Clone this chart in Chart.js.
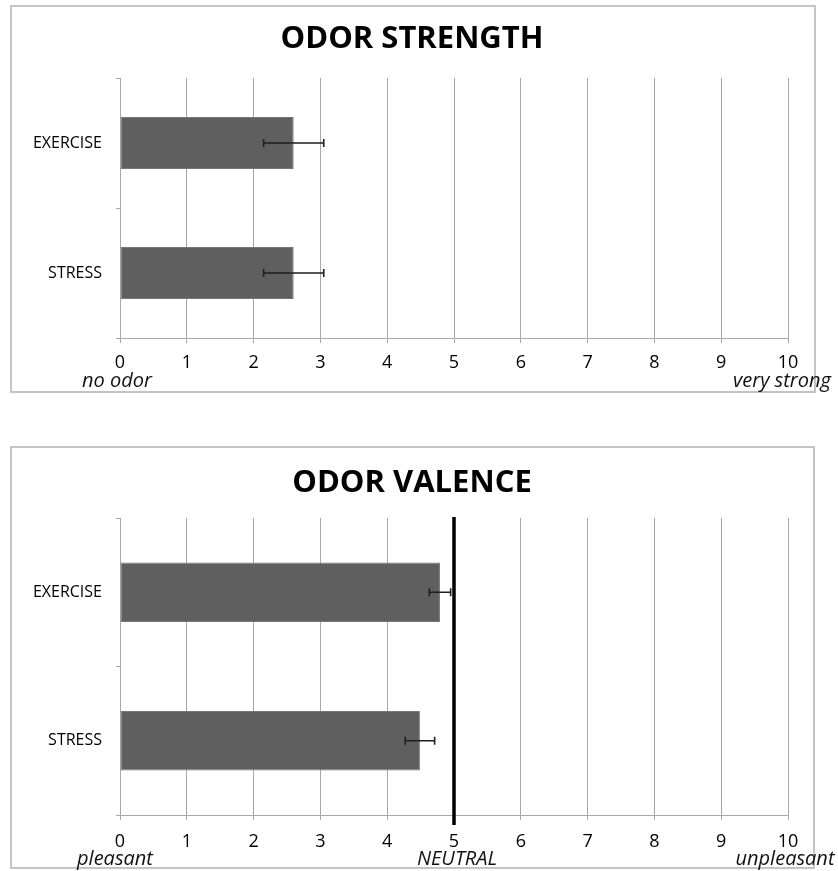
<!DOCTYPE html>
<html>
<head>
<meta charset="utf-8">
<script src="https://cdn.jsdelivr.net/npm/chart.js@4.4.1/dist/chart.umd.min.js"></script>
<style>
  html, body { margin: 0; padding: 0; background: #fff; }
  body { width: 838px; height: 871px; position: relative; overflow: hidden; }
  .box { position: absolute; border: 2px solid #c4c4c4; box-sizing: border-box; }
  .wrap { position: absolute; left: 0; width: 838px; }
  canvas { display: block; }
</style>
</head>
<body>
<div class="box" style="left:10px;top:5px;width:806px;height:388px;"></div>
<div class="box" style="left:10px;top:446px;width:805px;height:423px;"></div>
<div class="wrap" style="top:0;height:400px;"><canvas id="c1" width="838" height="400"></canvas></div>
<div class="wrap" style="top:420px;height:451px;"><canvas id="c2" width="838" height="451"></canvas></div>
<script>
// ---- data ----
const categories = ['EXERCISE', 'STRESS'];
const strengthMeans = [2.6, 2.6];
const strengthErrors = [0.45, 0.45];
const valenceMeans = [4.79, 4.49];
const valenceErrors = [0.16, 0.22];
const xMin = 0, xMax = 10, xStep = 1;
const neutralValue = 5;
const strengthEndLabels = ['no odor', 'very strong'];
const strengthEndValues = [0, 10];
const valenceEndLabels = ['pleasant', 'NEUTRAL', 'unpleasant'];
const valenceEndValues = [0, 5, 10];

const FONT = "'Open Sans', 'DejaVu Sans', sans-serif";
const GRID = '#a8a8a8';
const BAR = '#5f5f5f';

const errorBarPlugin = {
  id: 'errorBars',
  afterDatasetsDraw(chart, args, opts) {
    const ctx = chart.ctx;
    const xs = chart.scales.x;
    const meta = chart.getDatasetMeta(0);
    const means = chart.data.datasets[0].data;
    const errs = opts.errors || [];
    ctx.save();
    ctx.strokeStyle = '#1e1e1e';
    ctx.lineWidth = 1.6;
    meta.data.forEach((el, i) => {
      const y = el.y;
      const x1 = xs.getPixelForValue(means[i] - errs[i]);
      const x2 = xs.getPixelForValue(means[i] + errs[i]);
      ctx.beginPath();
      ctx.moveTo(x1, y); ctx.lineTo(x2, y);
      ctx.moveTo(x1, y - 4); ctx.lineTo(x1, y + 4);
      ctx.moveTo(x2, y - 4); ctx.lineTo(x2, y + 4);
      ctx.stroke();
    });
    ctx.restore();
  }
};

const refLinePlugin = {
  id: 'refLine',
  afterDatasetsDraw(chart, args, opts) {
    if (opts.value === undefined || opts.value === null) return;
    const ctx = chart.ctx;
    const x = chart.scales.x.getPixelForValue(opts.value);
    const a = chart.chartArea;
    ctx.save();
    ctx.strokeStyle = '#000';
    ctx.lineWidth = 3.5;
    ctx.beginPath();
    ctx.moveTo(x, a.top - 1);
    ctx.lineTo(x, a.bottom + 10);
    ctx.stroke();
    ctx.restore();
  }
};

const endLabelPlugin = {
  id: 'endLabels',
  afterDraw(chart, args, opts) {
    const ctx = chart.ctx;
    const xs = chart.scales.x;
    ctx.save();
    ctx.font = 'italic 20px ' + FONT;
    ctx.fillStyle = '#111';
    ctx.textBaseline = 'middle';
    ctx.textAlign = 'center';
    (opts.labels || []).forEach((t, i) => {
      const x = xs.getPixelForValue(opts.values[i]) + (opts.shifts ? opts.shifts[i] : 0);
      ctx.fillText(t, x, opts.y);
    });
    ctx.restore();
  }
};

function makeChart(id, title, means, errs, opt) {
  return new Chart(document.getElementById(id), {
    type: 'bar',
    data: {
      labels: categories,
      datasets: [{
        data: means,
        backgroundColor: BAR,
        borderColor: '#777',
        borderWidth: 1,
        borderSkipped: false,
        barPercentage: 0.4,
        categoryPercentage: 1.0
      }]
    },
    options: {
      indexAxis: 'y',
      responsive: false,
      animation: false,
      layout: { padding: { left: 36, right: 50, top: 0, bottom: 0 } },
      plugins: {
        legend: { display: false },
        tooltip: { enabled: false },
        title: {
          display: true,
          text: title,
          color: '#000',
          font: { family: FONT, size: 31, weight: 'bold', lineHeight: 1.2 },
          padding: { top: opt.titleTop, bottom: opt.titleBottom }
        },
        errorBars: { errors: errs },
        refLine: { value: opt.refValue },
        endLabels: { labels: opt.endLabels, values: opt.endValues, shifts: opt.shifts, y: opt.endY }
      },
      scales: {
        x: {
          type: 'linear',
          min: xMin, max: xMax,
          ticks: { stepSize: xStep, color: '#000', font: { family: FONT, size: 18 }, padding: opt.tickPad },
          grid: { color: GRID, lineWidth: 1, tickLength: 5 },
          border: { display: true, color: GRID, width: 1 },
          afterFit(s) { s.height = opt.xHeight; }
        },
        y: {
          type: 'category',
          offset: true,
          ticks: { color: '#000', font: { family: FONT, size: 16 }, padding: 14 },
          grid: { display: true, drawOnChartArea: false, drawTicks: true, tickLength: 4, color: GRID, offset: true },
          border: { display: true, color: GRID, width: 1 },
          afterFit(s) {
            s.width = 84;
            // let the category labels extend into the left padding without being clipped
            s._computeLabelArea = function () { return undefined; };
          }
        }
      }
    },
    plugins: [errorBarPlugin, refLinePlugin, endLabelPlugin]
  });
}

makeChart('c1', 'ODOR STRENGTH', strengthMeans, strengthErrors, {
  titleTop: 21, titleBottom: 19.8, xHeight: 62, tickPad: 9,
  refValue: null, endLabels: strengthEndLabels, endValues: strengthEndValues,
  shifts: [-3, -6], endY: 381
});
makeChart('c2', 'ODOR VALENCE', valenceMeans, valenceErrors, {
  titleTop: 44.4, titleBottom: 16.4, xHeight: 56, tickPad: 11,
  refValue: neutralValue, endLabels: valenceEndLabels, endValues: valenceEndValues,
  shifts: [-5, 3, -3], endY: 439
});
</script>
</body>
</html>
